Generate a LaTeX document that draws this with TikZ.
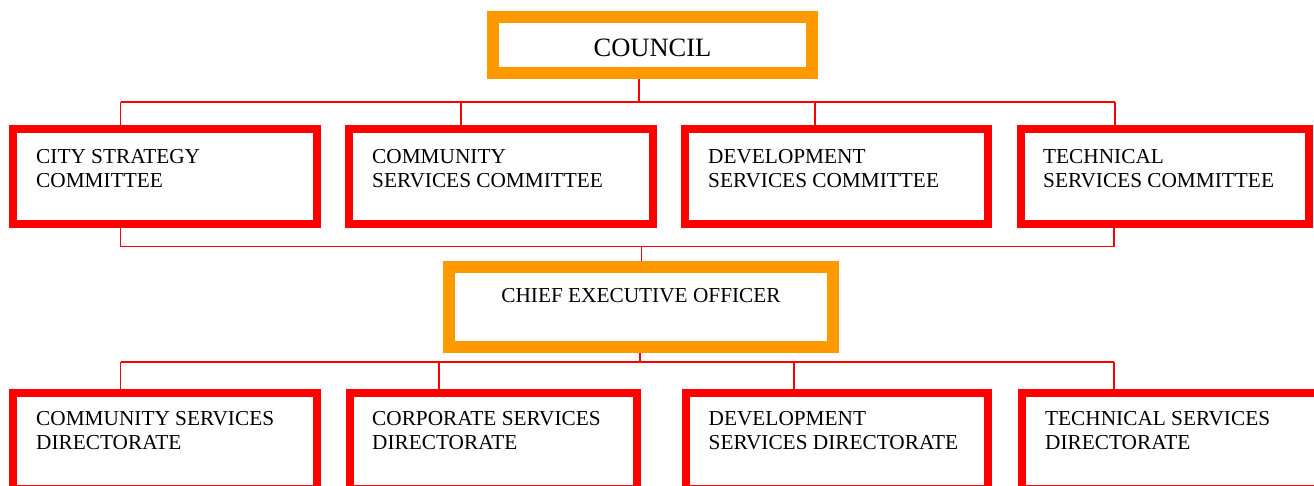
\documentclass[tikz,border=0pt]{standalone}
\usepackage{fontspec}
\setmainfont{Liberation Serif}
\usepackage{tikz}
\usetikzlibrary{positioning}
\definecolor{boxred}{RGB}{255,0,0}
\definecolor{headorange}{RGB}{255,153,0}

\begin{document}
\begin{tikzpicture}[x=1pt,y=-1pt,
    head/.style={draw=headorange,line width=12pt,inner sep=0pt},
    box/.style={draw=boxred,line width=8pt,inner sep=0pt,minimum height=95.5pt},
    txt/.style={align=left,inner sep=0pt,font=\fontsize{21.3}{24.5}\selectfont},
    link/.style={draw=boxred,line width=1.9pt}]
  \useasboundingbox (0,0) rectangle (1314,486);
  \clip (0,0) rectangle (1314,486);
  % council and committees
  \node[head,minimum width=319pt,minimum height=56pt,text height=24pt,text depth=0pt,
    font=\fontsize{26.5}{30}\selectfont] (council) at (652.5,45) {COUNCIL};
  \node[box,minimum width=303.5pt] (c1) at (164.75,176.75) {};
  \node[box,minimum width=304pt] (c2) at (501,176.75) {};
  \node[box,minimum width=303pt] (c3) at (836.5,176.75) {};
  \node[box,minimum width=288pt] (c4) at (1165,176.75) {};
  \node[txt,below right=24pt and 27pt of c1.north west] (c1t) {CITY STRATEGY\\COMMITTEE};
  \node[txt,below right=24pt and 27pt of c2.north west] (c2t) {COMMUNITY\\SERVICES COMMITTEE};
  \node[txt,below right=24pt and 27pt of c3.north west] (c3t) {DEVELOPMENT\\SERVICES COMMITTEE};
  \node[txt,below right=24pt and 26pt of c4.north west] (c4t) {TECHNICAL\\SERVICES COMMITTEE};
  % chief executive and directorates
  \node[head,txt,minimum width=384pt,minimum height=80pt,text height=14pt,text depth=23.4pt]
    (ceo) at (641,306.7) {CHIEF EXECUTIVE OFFICER};
  \node[box,minimum width=303.5pt,minimum height=96pt] (d1) at (164.75,440.5) {};
  \node[box,minimum width=287pt,minimum height=96pt] (d2) at (493.5,440.5) {};
  \node[box,minimum width=302pt,minimum height=96pt] (d3) at (837,440.5) {};
  \node[box,minimum width=308pt,minimum height=96pt] (d4) at (1176,440.5) {};
  \node[txt,below right=22.5pt and 27pt of d1.north west] (d1t) {COMMUNITY SERVICES\\DIRECTORATE};
  \node[txt,below right=22.5pt and 26pt of d2.north west] (d2t) {CORPORATE SERVICES\\DIRECTORATE};
  \node[txt,below right=22.5pt and 26.5pt of d3.north west] (d3t) {DEVELOPMENT\\SERVICES DIRECTORATE};
  \node[txt,below right=22.5pt and 27pt of d4.north west] (d4t) {TECHNICAL SERVICES\\DIRECTORATE};
  % council to committees
  \coordinate (tcn) at (639,102);
  \draw[link] (council.south -| tcn) -- (tcn);
  \foreach \b/\x in {c1/120.5,c2/461,c3/815,c4/1115}{
    \coordinate (t\b) at (\x,102);
    \draw[link] (t\b) -- (t\b |- \b.north);
  }
  \draw[link] (tc1) -- (tc4);
  % committees to chief executive
  \coordinate (m1) at (120.5,246.5);
  \coordinate (m4) at (1114,246.5);
  \coordinate (mc) at (641.5,246.5);
  \draw[link] (c1.south -| m1) -- (m1) -- (m4) -- (c4.south -| m4);
  \draw[link] (mc) -- (ceo.north -| mc);
  % chief executive to directorates
  \coordinate (bc) at (640,362);
  \draw[link] (ceo.south -| bc) -- (bc);
  \foreach \b/\x in {d1/120.5,d2/439,d3/794,d4/1114}{
    \coordinate (b\b) at (\x,362);
    \draw[link] (b\b) -- (b\b |- \b.north);
  }
  \draw[link] (bd1) -- (bd4);
\end{tikzpicture}
\end{document}
